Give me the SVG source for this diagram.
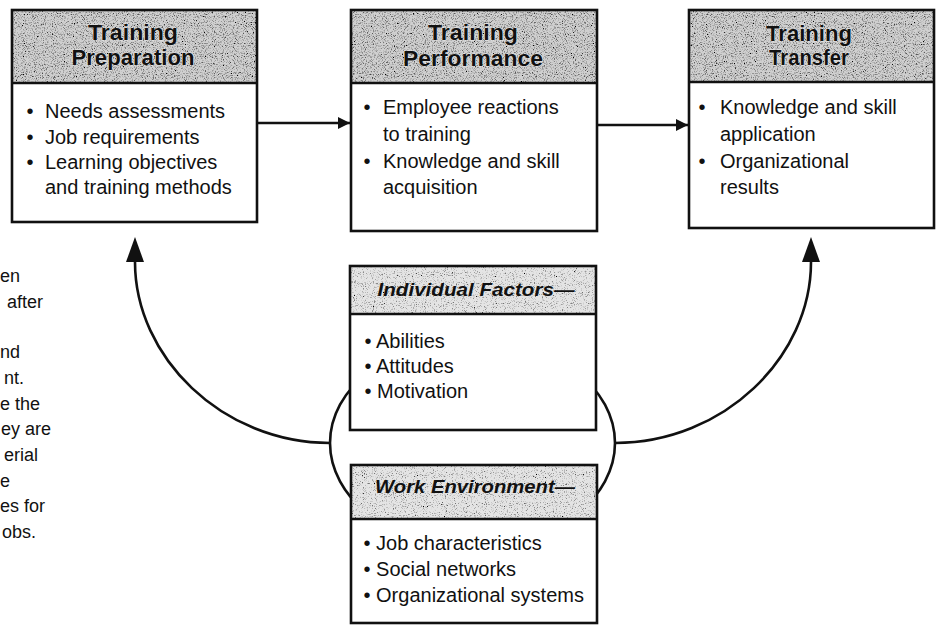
<svg xmlns="http://www.w3.org/2000/svg" width="939" height="626" viewBox="0 0 939 626">
  <style>
    .frame{fill:none;stroke:#111;stroke-width:2.6}
    .body{fill:#fff}
    .hdr{fill:#d0d0d0;filter:url(#stipple)}
    .hdr2{fill:#e4e4e4;filter:url(#stippleLight)}
    .rule{stroke:#111;stroke-width:2.4}
    .ht{font-family:"Liberation Sans",Arial,Helvetica,sans-serif;font-weight:bold;font-size:22px;text-anchor:middle;fill:#111;stroke:#fff;stroke-width:0.6;paint-order:stroke}
    .hi{font-family:"Liberation Sans",Arial,Helvetica,sans-serif;font-weight:bold;font-style:italic;font-size:18px;text-anchor:middle;fill:#111}
    .bt{font-family:"Liberation Sans",Arial,Helvetica,sans-serif;font-size:20px;fill:#111}
    .side{font-family:"Liberation Sans",Arial,Helvetica,sans-serif;font-size:18px;fill:#111}
    .conn{fill:none;stroke:#111;stroke-width:2.6}
  </style>
  <defs>
    <!-- grainy screen-tone for the title bands -->
    <filter id="stipple" x="0" y="0" width="100%" height="100%">
      <feTurbulence type="fractalNoise" baseFrequency="0.9" numOctaves="2" seed="7" result="noise"/>
      <feColorMatrix in="noise" type="matrix" values="0 0 0 0 0  0 0 0 0 0  0 0 0 0 0  3.2 0 0 0 -1.55" result="dots"/>
      <feComposite in="dots" in2="SourceGraphic" operator="in" result="speck"/>
      <feMerge><feMergeNode in="SourceGraphic"/><feMergeNode in="speck"/></feMerge>
    </filter>
    <filter id="stippleLight" x="0" y="0" width="100%" height="100%">
      <feTurbulence type="fractalNoise" baseFrequency="0.9" numOctaves="2" seed="11" result="noise"/>
      <feColorMatrix in="noise" type="matrix" values="0 0 0 0 0  0 0 0 0 0  0 0 0 0 0  3.2 0 0 0 -1.75" result="dots"/>
      <feComposite in="dots" in2="SourceGraphic" operator="in" result="speck"/>
      <feMerge><feMergeNode in="SourceGraphic"/><feMergeNode in="speck"/></feMerge>
    </filter>
    <marker id="headSmall" viewBox="0 -6 12 12" refX="12" refY="0" markerWidth="12" markerHeight="12" markerUnits="userSpaceOnUse" orient="auto">
      <path d="M0,-6 L12,0 L0,6 z" fill="#111"/>
    </marker>
    <marker id="headLarge" viewBox="0 -9 25 18" refX="0" refY="0" markerWidth="25" markerHeight="18" markerUnits="userSpaceOnUse" orient="auto">
      <path d="M0,-9 L25,0 L0,9 z" fill="#111"/>
    </marker>
  </defs>

  <rect width="939" height="626" fill="#fff"/>

  <!-- side note, running off the left edge -->
  <g id="side-note">
    <text class="side" x="0" y="282">en</text>
    <text class="side" x="7" y="308">after</text>
    <text class="side" x="0" y="358">nd</text>
    <text class="side" x="4" y="384">nt.</text>
    <text class="side" x="0" y="410">e the</text>
    <text class="side" x="1" y="435">ey are</text>
    <text class="side" x="4" y="461">erial</text>
    <text class="side" x="0" y="487">e</text>
    <text class="side" x="0" y="512">es for</text>
    <text class="side" x="2" y="538">obs.</text>
  </g>

  <g id="connectors">
    <!-- ring around the two influence boxes -->
    <ellipse class="conn" cx="472.5" cy="443" rx="142.5" ry="104"/>
    <path class="conn" d="M330,443 C222,443 135,357 135,262" marker-end="url(#headLarge)"/>
    <path class="conn" d="M615,443 C724,443 811,357 811,262" marker-end="url(#headLarge)"/>
    <line class="conn" x1="257" y1="123" x2="350" y2="123" marker-end="url(#headSmall)"/>
    <line class="conn" x1="597" y1="125" x2="688" y2="125" marker-end="url(#headSmall)"/>
  </g>

  <g id="training-preparation">
    <rect class="body" x="12" y="10" width="245" height="212"/>
    <rect class="hdr" x="12" y="10" width="245" height="73"/>
    <line class="rule" x1="12" y1="83" x2="257" y2="83"/>
    <rect class="frame" x="12" y="10" width="245" height="212"/>
    <text class="ht" x="133" y="40" textLength="90" lengthAdjust="spacingAndGlyphs">Training</text>
    <text class="ht" x="133" y="65" textLength="123" lengthAdjust="spacingAndGlyphs">Preparation</text>
    <text class="bt" x="26.5" y="118">•</text><text class="bt" x="45" y="118">Needs assessments</text>
    <text class="bt" x="26.5" y="144">•</text><text class="bt" x="45" y="144">Job requirements</text>
    <text class="bt" x="26.5" y="169">•</text><text class="bt" x="45" y="169">Learning objectives</text>
    <text class="bt" x="45" y="194">and training methods</text>
  </g>

  <g id="training-performance">
    <rect class="body" x="351" y="10" width="246" height="221"/>
    <rect class="hdr" x="351" y="10" width="246" height="73"/>
    <line class="rule" x1="351" y1="83" x2="597" y2="83"/>
    <rect class="frame" x="351" y="10" width="246" height="221"/>
    <text class="ht" x="473" y="40" textLength="90" lengthAdjust="spacingAndGlyphs">Training</text>
    <text class="ht" x="473" y="66" textLength="140" lengthAdjust="spacingAndGlyphs">Performance</text>
    <text class="bt" x="363.5" y="114">•</text><text class="bt" x="383" y="114">Employee reactions</text>
    <text class="bt" x="383" y="141">to training</text>
    <text class="bt" x="363.5" y="168">•</text><text class="bt" x="383" y="168">Knowledge and skill</text>
    <text class="bt" x="383" y="194">acquisition</text>
  </g>

  <g id="training-transfer">
    <rect class="body" x="689" y="10" width="245" height="218"/>
    <rect class="hdr" x="689" y="10" width="245" height="72"/>
    <line class="rule" x1="689" y1="82" x2="934" y2="82"/>
    <rect class="frame" x="689" y="10" width="245" height="218"/>
    <text class="ht" x="809" y="41" textLength="86" lengthAdjust="spacingAndGlyphs">Training</text>
    <text class="ht" x="809" y="65" textLength="80" lengthAdjust="spacingAndGlyphs">Transfer</text>
    <text class="bt" x="698.5" y="114">•</text><text class="bt" x="720" y="114">Knowledge and skill</text>
    <text class="bt" x="720" y="141">application</text>
    <text class="bt" x="698.5" y="168">•</text><text class="bt" x="720" y="168">Organizational</text>
    <text class="bt" x="720" y="194">results</text>
  </g>

  <g id="individual-factors">
    <rect class="body" x="350" y="266" width="246" height="164"/>
    <rect class="hdr2" x="350" y="266" width="246" height="48"/>
    <line class="rule" x1="350" y1="314" x2="596" y2="314"/>
    <rect class="frame" x="350" y="266" width="246" height="164"/>
    <text class="hi" x="476" y="296" textLength="197" lengthAdjust="spacingAndGlyphs">Individual Factors—</text>
    <text class="bt" x="364.5" y="348">• Abilities</text>
    <text class="bt" x="364.5" y="373">• Attitudes</text>
    <text class="bt" x="364.5" y="398">• Motivation</text>
  </g>

  <g id="work-environment">
    <rect class="body" x="351" y="465" width="246" height="158"/>
    <rect class="hdr2" x="351" y="465" width="246" height="54"/>
    <line class="rule" x1="351" y1="519" x2="597" y2="519"/>
    <rect class="frame" x="351" y="465" width="246" height="158"/>
    <text class="hi" x="475" y="493" textLength="200" lengthAdjust="spacingAndGlyphs">Work Environment—</text>
    <text class="bt" x="363.5" y="550">• Job characteristics</text>
    <text class="bt" x="363.5" y="576">• Social networks</text>
    <text class="bt" x="363.5" y="602">• Organizational systems</text>
  </g>
</svg>
